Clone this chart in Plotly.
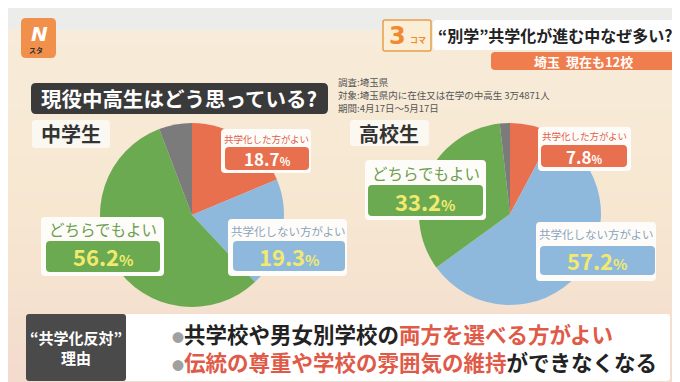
import plotly.graph_objects as go

# ---- data ----
categories = ["共学化した方がよい", "共学化しない方がよい", "どちらでもよい", "その他"]
junior_high = [18.7, 19.3, 56.2, 5.8]
senior_high = [7.8, 57.2, 33.2, 1.8]
slice_colors = ["#e8704f", "#8fb9dc", "#6caa52", "#7b7b7b"]
pie_titles = ["中学生", "高校生"]

W, H = 680, 382
FONT = "Noto Sans CJK JP"


def px(x):
    return x / W


def py(y):
    return 1 - y / H


def rrect(x0, y0, x1, y1, r):
    X = lambda v: f"{px(v):.5f}"
    Y = lambda v: f"{py(v):.5f}"
    return (f"M {X(x0+r)},{Y(y0)} L {X(x1-r)},{Y(y0)} Q {X(x1)},{Y(y0)} {X(x1)},{Y(y0+r)} "
            f"L {X(x1)},{Y(y1-r)} Q {X(x1)},{Y(y1)} {X(x1-r)},{Y(y1)} "
            f"L {X(x0+r)},{Y(y1)} Q {X(x0)},{Y(y1)} {X(x0)},{Y(y1-r)} "
            f"L {X(x0)},{Y(y0+r)} Q {X(x0)},{Y(y0)} {X(x0+r)},{Y(y0)} Z")


shapes = []
annotations = []


def box(x0, y0, x1, y1, color, r=4, layer="above", line=None):
    shapes.append(dict(type="path", path=rrect(x0, y0, x1, y1, r), xref="paper", yref="paper",
                       fillcolor=color, line=dict(width=0 if line is None else 1.5,
                                                  color=line or color), layer=layer))


def text(x, y, s, size, color, bold=False, xanchor="center", family=FONT, align="center"):
    if bold:
        s = f"<b>{s}</b>"
    annotations.append(dict(x=px(x), y=py(y), xref="paper", yref="paper", text=s, showarrow=False,
                            xanchor=xanchor, yanchor="middle", align=align,
                            font=dict(size=size, color=color, family=family)))


# ---- background gradient ----
def lerp(c1, c2, t):
    return "#%02x%02x%02x" % tuple(int(round(a + (b - a) * t)) for a, b in zip(c1, c2))


top = (247, 236, 217)
mid = (247, 231, 209)
bot = (243, 219, 205)
n = 40
for i in range(n):
    y0 = 20 + (H - 20) * i / n
    y1 = 20 + (H - 20) * (i + 1) / n + 1
    t = i / (n - 1)
    c = lerp(top, mid, t * 2) if t < 0.5 else lerp(mid, bot, (t - 0.5) * 2)
    shapes.append(dict(type="rect", x0=0, x1=1, y0=py(y1), y1=py(y0), xref="paper", yref="paper",
                       fillcolor=c, line=dict(width=0), layer="below"))
shapes.append(dict(type="rect", x0=0, x1=1, y0=py(22), y1=1, xref="paper", yref="paper",
                   fillcolor="#ececea", line=dict(width=0), layer="below"))

fig = go.Figure()

# ---- pies ----
pie_geo = [(184, 207, 92), (502, 206, 91)]
for vals, (cx, cy, r) in zip([junior_high, senior_high], pie_geo):
    fig.add_trace(go.Pie(
        labels=categories, values=vals, sort=False, direction="clockwise", rotation=0,
        marker=dict(colors=slice_colors, line=dict(width=0)), textinfo="none",
        hoverinfo="label+percent", showlegend=False,
        domain=dict(x=[px(cx - r), px(cx + r)], y=[py(cy + r), py(cy - r)]),
    ))

# ---- header ----
box(13, 10, 48, 50, "#f0904a", r=5)
text(31, 26, "<i>N</i>", 20, "white", bold=True, family="DejaVu Sans")
text(28, 42, "スタ", 7, "#333333", bold=True)

box(375, 12, 423, 43, "#fbeed6", r=2, line="#e4a04a")
text(389, 28, "3", 24, "#f08a30", bold=True, family="DejaVu Sans")
text(410, 31, "コマ", 8, "#f08a30", bold=True)

box(425, 12, 670, 42, "#ffffff", r=4)
text(547, 27, "“別学”共学化が進む中なぜ多い?", 16, "#222222", bold=True)
box(483, 44, 667, 62, "#f07d4e", r=4)
text(575, 53, "埼玉  現在も12校", 13, "#ffffff", bold=True)

# ---- title ----
box(23, 75, 320, 106, "#3a3a3a", r=5)
text(171, 90, "現役中高生はどう思っている?", 20.5, "#ffffff", bold=True)
note_lines = ["調査:埼玉県", "対象:埼玉県内に在住又は在学の中高生 3万4871人", "期間:4月17日〜5月17日"]
for i, s in enumerate(note_lines):
    text(328, 74 + i * 13, s, 9.5, "#555555", xanchor="left")

# ---- group titles ----
box(24, 112, 102, 140, "#fbf7f1", r=3)
text(63, 126, pie_titles[0], 20, "#333333", bold=True)
box(342, 112, 421, 138, "#fbf7f1", r=3)
text(381, 125, pie_titles[1], 20, "#333333", bold=True)

# ---- slice labels ----
label_text_colors = ["#e0604a", "#8aa4bd", "#6c9f50"]
label_box_colors = ["#e8704f", "#8fb9dc", "#6caa52"]
num_colors = ["#ffffff", "#f2ea6e", "#f2ea6e"]


def pct(v, size):
    return f"{v}<span style='font-size:{int(size*0.7)}px'>%</span>"


def slice_label(idx, val, outer, inner, tsize, nsize):
    ox0, oy0, ox1, oy1 = outer
    ix0, iy0, ix1, iy1 = inner
    box(ox0, oy0, ox1, oy1, "#fefcf9", r=4)
    box(ix0, iy0, ix1, iy1, label_box_colors[idx], r=4)
    text((ox0 + ox1) / 2, (oy0 + iy0) / 2 + 0.5, categories[idx], tsize, label_text_colors[idx])
    text((ix0 + ix1) / 2, (iy0 + iy1) / 2, pct(val, nsize), nsize, num_colors[idx], bold=True)


# junior high
slice_label(0, junior_high[0], (213, 121, 303, 165), (217, 139, 301, 162), 9.5, 17)
slice_label(1, junior_high[1], (220, 211, 339, 268), (225, 233, 337, 263), 11.5, 22)
slice_label(2, junior_high[2], (33, 209, 156, 268), (38, 233, 152, 264), 15.5, 22)
# senior high
slice_label(0, senior_high[0], (530, 119, 623, 163), (533, 137, 619, 159), 9.5, 17)
slice_label(2, senior_high[2], (357, 152, 478, 212), (360, 177, 475, 208), 15.5, 22)
slice_label(1, senior_high[1], (528, 214, 648, 273), (532, 238, 647, 267), 11.5, 22)

# ---- bottom panel ----
box(18, 306, 662, 373, "#ffffff", r=3)
box(18, 306, 118, 373, "#4a4a4a", r=3)
text(68, 339, "“共学化反対”<br>理由", 15, "#ffffff", bold=True)
RED = "#e05a48"
BUL = "<span style='color:#a0a0a0;font-size:12px'>●</span>"
lines = (f"{BUL}共学校や男女別学校の<span style='color:{RED}'>両方を選べる方がよい</span><br>"
         f"{BUL}<span style='color:{RED}'>伝統の尊重や学校の雰囲気の維持</span>ができなくなる")
text(162, 339, lines, 21.5, "#222222", bold=True, xanchor="left", align="left")

fig.update_layout(
    width=W, height=H, margin=dict(l=0, r=0, t=0, b=0),
    paper_bgcolor="#f6e6cf", plot_bgcolor="rgba(0,0,0,0)",
    shapes=shapes, annotations=annotations,
    font=dict(family=FONT),
)
fig.write_html("out.html")
